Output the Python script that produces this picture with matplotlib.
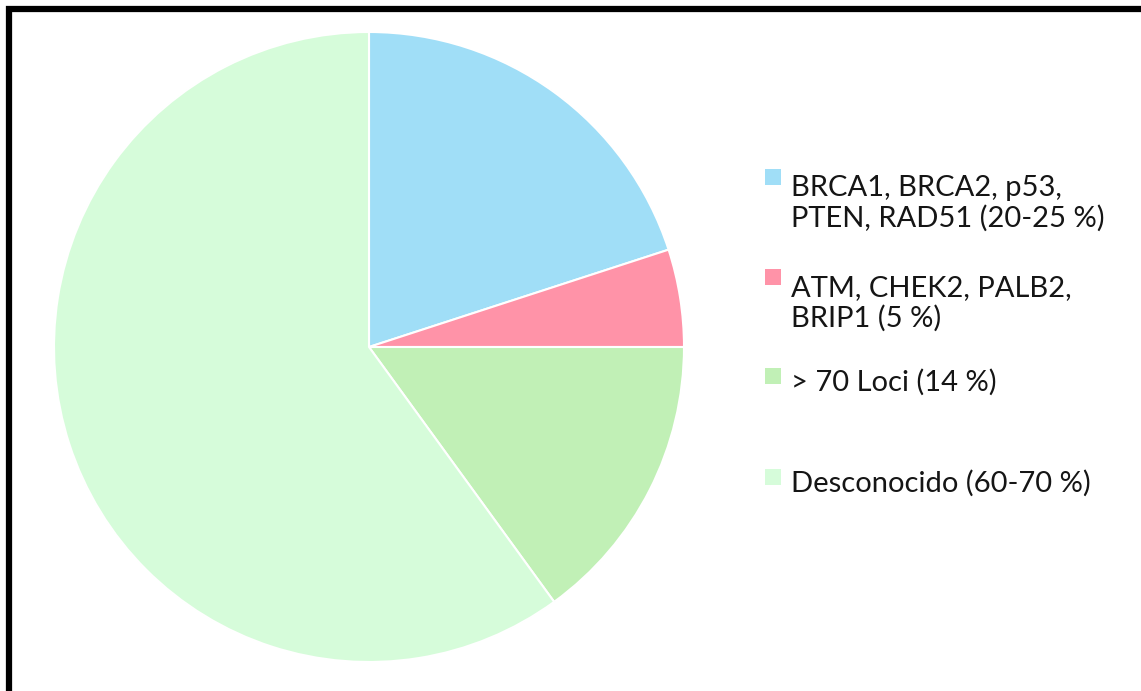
import matplotlib.pyplot as plt
from matplotlib.patches import Rectangle

# data
labels = ['BRCA1, BRCA2, p53,\nPTEN, RAD51 (20-25 %)',
          'ATM, CHEK2, PALB2,\nBRIP1 (5 %)',
          '> 70 Loci (14 %)',
          'Desconocido (60-70 %)']
values = [20, 5, 15, 60]
colors = ['#a0def7', '#ff93a8', '#c1f0b6', '#d6fcda']

# legend layout: baseline pixel row of each entry's first line
leg_base = [192, 292, 391, 492]
line_px = 35

W, H = 1141, 691
fig = plt.figure(figsize=(W / 100, H / 100), dpi=100)
fig.patch.set_facecolor('white')

cx, cy, r = 369, 347, 315
ax = fig.add_axes([(cx - r) / W, (H - cy - r) / H, 2 * r / W, 2 * r / H])
ax.pie(values, colors=colors, startangle=90, counterclock=False,
       wedgeprops=dict(edgecolor='white', linewidth=1.5))
ax.set_aspect('equal')
ax.set_xlim(-1, 1)
ax.set_ylim(-1, 1)
ax.axis('off')

# legend drawn by hand to keep the uneven spacing
for lab, col, y in zip(labels, colors, leg_base):
    fig.patches.append(Rectangle((765 / W, 1 - (y - 7) / H), 16 / W, 16 / H,
                                 transform=fig.transFigure, facecolor=col,
                                 edgecolor='none'))
    # baseline alignment uses the last line of a multi-line text
    y_last = y + line_px * lab.count('\n')
    fig.text(791 / W, 1 - y_last / H, lab, fontsize=21, family='Lato',
             va='baseline', ha='left', linespacing=1.2, color='#151515')

# black frame (only top and left edges fall inside the picture)
fig.patches.append(Rectangle((9 / W, -0.1), 1.2, 1 - 9 / H + 0.1,
                             transform=fig.transFigure, fill=False,
                             edgecolor='black', linewidth=4.5))

fig.savefig('out.png', dpi=100)
